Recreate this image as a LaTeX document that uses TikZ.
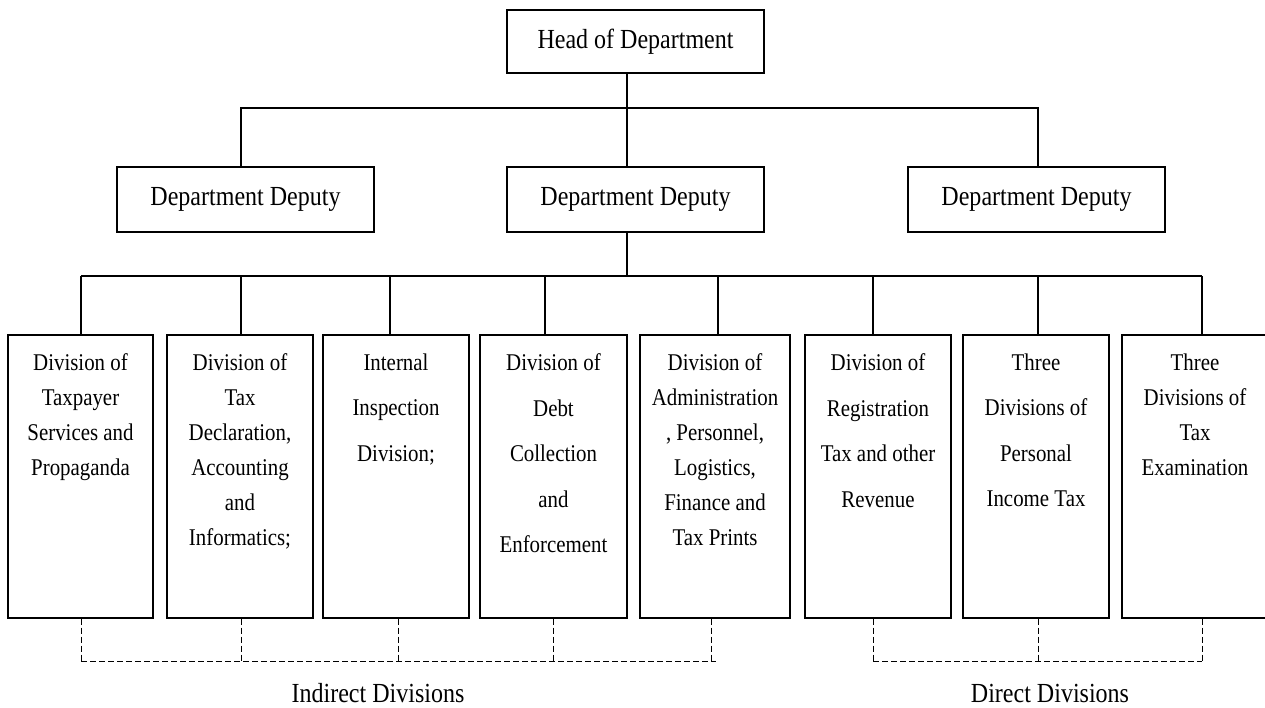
\documentclass[tikz,border=0pt]{standalone}
\usepackage{fontspec}
\setmainfont{Liberation Serif}[FakeStretch=0.87]
\begin{document}
\begin{tikzpicture}[x=1pt,y=-1pt,line width=1.1pt,
  box/.style={draw,rectangle,inner sep=0pt,font=\fontsize{27.6}{30}\selectfont},
  divbox/.style={draw,rectangle,inner sep=0pt,minimum height=283pt},
  divtext/.style={align=center,inner sep=0pt,anchor=north},
  tight/.style={font=\fontsize{24}{35}\selectfont},
  loose/.style={font=\fontsize{24}{45.6}\selectfont},
  grouplink/.style={dash pattern=on 6pt off 3pt,line width=1pt},
  grouplabel/.style={font=\fontsize{27.6}{30}\selectfont,inner sep=0pt}]
\useasboundingbox (0,0) rectangle (1265,707);

% head and deputies
\node[box,minimum width=257pt,minimum height=63pt] (head) at (635.5,41.5) {Head of Department};
\node[box,minimum width=257pt,minimum height=65pt] (dd1) at (245.5,199.5) {Department Deputy};
\node[box,minimum width=257pt,minimum height=65pt] (dd2) at (635.5,199.5) {Department Deputy};
\node[box,minimum width=257pt,minimum height=65pt] (dd3) at (1036.5,199.5) {Department Deputy};

% divisions
\node[divbox,minimum width=145pt] (d1) at (80.5,476.5) {};
\node[divbox,minimum width=146pt] (d2) at (240,476.5) {};
\node[divbox,minimum width=146pt] (d3) at (396,476.5) {};
\node[divbox,minimum width=147pt] (d4) at (553.5,476.5) {};
\node[divbox,minimum width=150pt] (d5) at (715,476.5) {};
\node[divbox,minimum width=146pt] (d6) at (878,476.5) {};
\node[divbox,minimum width=146pt] (d7) at (1036,476.5) {};
\node[divbox,minimum width=146pt] (d8) at (1195,476.5) {};

\node[divtext,tight] (t1) at ([yshift=-18.5pt]d1.north) {Division of\\Taxpayer\\Services and\\Propaganda};
\node[divtext,tight] (t2) at ([yshift=-18.5pt]d2.north) {Division of\\Tax\\Declaration,\\Accounting\\and\\Informatics;};
\node[divtext,loose] (t3) at ([yshift=-18.5pt]d3.north) {Internal\\Inspection\\Division;};
\node[divtext,loose] (t4) at ([yshift=-18.5pt]d4.north) {Division of\\Debt\\Collection\\and\\Enforcement};
\node[divtext,tight] (t5) at ([yshift=-18.5pt]d5.north) {Division of\\Administration\\, Personnel,\\Logistics,\\Finance and\\Tax Prints};
\node[divtext,loose] (t6) at ([yshift=-18.5pt]d6.north) {Division of\\Registration\\Tax and other\\Revenue};
\node[divtext,loose] (t7) at ([yshift=-18.5pt]d7.north) {Three\\Divisions of\\Personal\\Income Tax};
\node[divtext,tight] (t8) at ([yshift=-18.5pt]d8.north) {Three\\Divisions of\\Tax\\Examination};

% head to deputies
\coordinate (hj) at (627,108);
\coordinate (hl) at (241,108);
\coordinate (hr) at (1038,108);
\draw (hj |- head.south) -- (hj |- dd2.north);
\draw (hl |- dd1.north) -- (hl) -- (hr) -- (hr |- dd3.north);

% central deputy to divisions
\coordinate (bj) at (627,276);
\coordinate (b1) at (81,276);
\coordinate (b2) at (241,276);
\coordinate (b3) at (390,276);
\coordinate (b4) at (545,276);
\coordinate (b5) at (718,276);
\coordinate (b6) at (873,276);
\coordinate (b7) at (1038,276);
\coordinate (b8) at (1202,276);
\draw (bj |- dd2.south) -- (bj);
\draw (b1) -- (b8);
\foreach \i in {1,...,8} {
  \draw (b\i) -- (b\i |- d\i.north);
}

% group brackets
\coordinate (g1) at (81,661);
\coordinate (g2) at (241,661);
\coordinate (g3) at (398,661);
\coordinate (g4) at (553,661);
\coordinate (g5) at (711,661);
\coordinate (g5e) at (716,661);
\coordinate (g6) at (873,661);
\coordinate (g7) at (1038,661);
\coordinate (g8) at (1202,661);
\foreach \i in {1,...,8} {
  \draw[grouplink] (g\i |- d\i.south) -- (g\i);
}
\draw[grouplink] (g1) -- (g5e);
\draw[grouplink] (g6) -- (g8);

\node[grouplabel] (ind) at (378,693) {Indirect Divisions};
\node[grouplabel] (dir) at (1050,693) {Direct Divisions};
\end{tikzpicture}
\end{document}
